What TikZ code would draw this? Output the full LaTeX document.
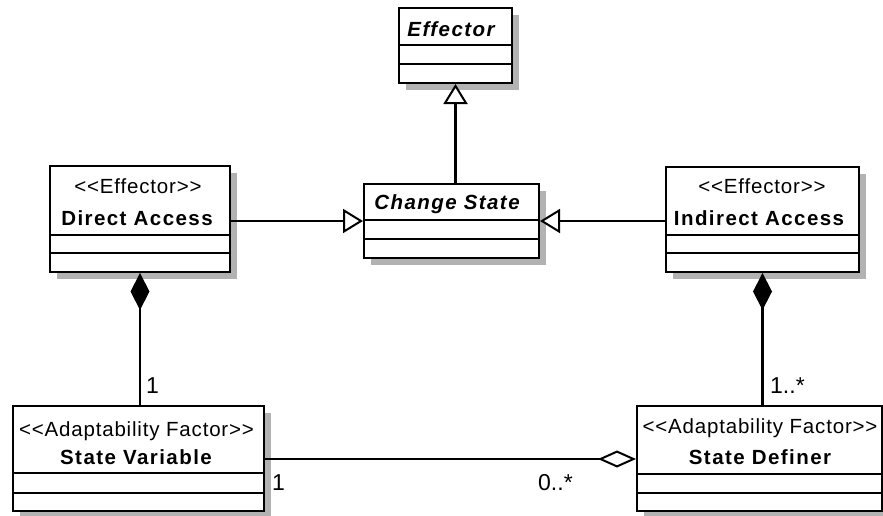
\documentclass[tikz,border=0pt]{standalone}
\usepackage{fontspec}
\setmainfont{Liberation Sans}
\newfontfamily\clsfont[LetterSpace=4]{Liberation Sans}
\newfontfamily\clsbold[LetterSpace=7]{Liberation Sans}
\usetikzlibrary{arrows.meta,shadows}
\tikzset{
  cls/.style={draw, line width=2pt, fill=white, inner sep=0pt, anchor=north west,
    drop shadow={shadow xshift=6.5pt, shadow yshift=-6.5pt, fill=black!30, opacity=1}},
  sep/.style={line width=2pt},
  stereo/.style={font=\clsfont\fontsize{20.5}{23}\selectfont, anchor=base, inner sep=0pt},
  cname/.style={font=\clsbold\bfseries\fontsize{20.5}{23}\selectfont, anchor=base, inner sep=0pt},
  cnameit/.style={font=\clsbold\bfseries\itshape\fontsize{20.5}{23}\selectfont, anchor=base, inner sep=0pt},
  mult/.style={font=\fontsize{23}{26}\selectfont, anchor=base west, inner sep=0pt},
  conn/.style={line width=2.8pt},
  gen/.style={conn, -{Triangle[open, length=20pt, width=24pt, fill=white, line width=2pt]}},
  comp/.style={conn, {Diamond[length=37pt, width=19pt]}-},
  agg/.style={conn, -{Diamond[open, length=38pt, width=17pt, fill=white, line width=2pt]}}
}
\begin{document}
\begin{tikzpicture}[x=1pt, y=-1pt]
\useasboundingbox (0,0) rectangle (883,515);
% class boxes
\node[cls, minimum width=113pt, minimum height=75pt] (ef) at (398,7) {};
\node[cls, minimum width=180pt, minimum height=106pt] (da) at (49,165) {};
\node[cls, minimum width=175pt, minimum height=74pt] (cs) at (363,183) {};
\node[cls, minimum width=193pt, minimum height=105pt] (ia) at (665,166) {};
\node[cls, minimum width=251pt, minimum height=105pt] (sv) at (12,405) {};
\node[cls, minimum width=245pt, minimum height=105pt] (sd) at (636,405) {};
% compartments
\draw[sep] (ef.west |- 0,45) -- (ef.east |- 0,45);
\draw[sep] (ef.west |- 0,64) -- (ef.east |- 0,64);
\draw[sep] (da.west |- 0,235) -- (da.east |- 0,235);
\draw[sep] (da.west |- 0,253) -- (da.east |- 0,253);
\draw[sep] (cs.west |- 0,220) -- (cs.east |- 0,220);
\draw[sep] (cs.west |- 0,239) -- (cs.east |- 0,239);
\draw[sep] (ia.west |- 0,235) -- (ia.east |- 0,235);
\draw[sep] (ia.west |- 0,253) -- (ia.east |- 0,253);
\draw[sep] (sv.west |- 0,473) -- (sv.east |- 0,473);
\draw[sep] (sv.west |- 0,493) -- (sv.east |- 0,493);
\draw[sep] (sd.west |- 0,474) -- (sd.east |- 0,474);
\draw[sep] (sd.west |- 0,493) -- (sd.east |- 0,493);
% texts
\node[cnameit] (eft) at (451,36) {Effector};
\node[stereo] (das) at (138,193) {<<Effector>>};
\node[cname] (dan) at (137,225) {Direct Access};
\node[cnameit] (cst) at (447,209) {Change State};
\node[stereo] (ias) at (762,193) {<<Effector>>};
\node[cname] (ian) at (759,225) {Indirect Access};
\node[stereo] (svs) at (136.5,436) {<<Adaptability Factor>>};
\node[cname] (svn) at (136,464) {State Variable};
\node[stereo] (sds) at (760,433) {<<Adaptability Factor>>};
\node[cname] (sdn) at (760,464) {State Definer};
% connectors
\draw[gen] (ef.south |- cs.north) -- (ef.south);
\draw[gen] (cs.west -| da.east) -- (cs.west);
\draw[gen] (cs.east -| ia.west) -- (cs.east);
\draw[comp] (da.south) -- (da.south |- sv.north);
\draw[comp] (ia.south) -- (ia.south |- sd.north);
\coordinate (a1) at (sv.east |- 0,459);
\coordinate (a2) at (sd.west |- 0,459);
\draw[agg] (a1) -- (a2);
% multiplicities
\node[mult] (m1) at (146,393) {1};
\node[mult] (m2) at (770,393) {1..*};
\node[mult] (m3) at (272,490) {1};
\node[mult] (m4) at (538,490) {0..*};
\end{tikzpicture}
\end{document}
